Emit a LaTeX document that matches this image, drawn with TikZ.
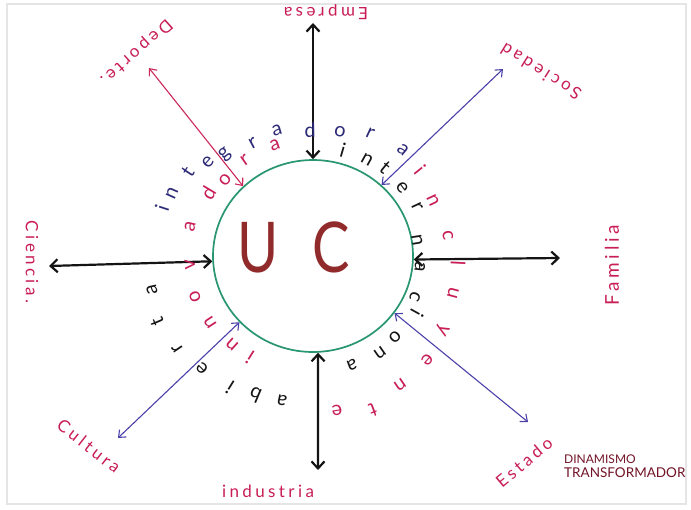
\documentclass[tikz,border=0pt]{standalone}
\usepackage{fontspec}
\usetikzlibrary{arrows.meta,shapes.geometric}
\newfontfamily\hand[LetterSpace=20]{Lato}
\newfontfamily\ringfont{Lato}
\definecolor{pinkc}{RGB}{200,30,85}
\definecolor{navy}{RGB}{45,42,120}
\definecolor{arrblue}{RGB}{75,65,170}
\definecolor{arrpink}{RGB}{205,40,90}
\definecolor{greenc}{RGB}{40,150,110}
\definecolor{ucred}{RGB}{145,42,42}
\definecolor{maroonc}{RGB}{115,20,40}
\definecolor{inkblack}{RGB}{20,20,20}
\begin{document}
\begin{tikzpicture}[x=1pt,y=-1pt,
  lab/.style={text=pinkc, font=\hand\fontsize{17}{17}\selectfont, inner sep=0pt},
  barrow/.style={{Straight Barb[length=7pt,width=13pt]}-{Straight Barb[length=7pt,width=13pt]}, line width=2.2pt, draw=inkblack},
  tarrow/.style={{Straight Barb[length=6pt,width=10pt]}-{Straight Barb[length=6pt,width=10pt]}, line width=1.1pt},
  ringb/.style={text=navy, font=\ringfont\fontsize{20}{20}\selectfont, inner sep=0pt},
  ringp/.style={text=pinkc, font=\ringfont\fontsize{20}{20}\selectfont, inner sep=0pt},
  ringk/.style={text=inkblack, font=\ringfont\fontsize{20}{20}\selectfont, inner sep=0pt}
]
\fill[white] (0,0) rectangle (691,509);
\useasboundingbox (0,0) rectangle (691,509);
\draw[black!10, line width=1.5pt] (7,4) rectangle (686,504);

% central circle
\node[ellipse, draw=greenc, line width=1.7pt, minimum width=200pt, minimum height=192pt, inner sep=0pt] (uc) at (313,256) {};
\node[text=ucred, font=\ringfont\fontsize{70}{70}\selectfont, inner sep=0pt, xscale=0.8] (uctext) at (294,247) {U\hspace{42pt}C};

% outer ends
\coordinate (eEmp) at (313,23);
\coordinate (eSoc) at (503,69);
\coordinate (eFam) at (560,258);
\coordinate (eEst) at (528,422);
\coordinate (eInd) at (318,470);
\coordinate (eCul) at (118,438);
\coordinate (eCie) at (49,266);
\coordinate (eDep) at (149,68);

% connectors
\draw[barrow] (uc.90) -- (eEmp);
\draw[tarrow, draw=arrblue] (uc.46.6) -- (eSoc);
\draw[barrow] (uc.-2) -- (eFam);
\draw[tarrow, draw=arrblue] (uc.-35) -- (eEst);
\draw[barrow] (uc.-87) -- (eInd);
\draw[tarrow, draw=arrblue] (uc.222.5) -- (eCul);
\draw[barrow] (uc.183.5) -- (eCie);
\draw[tarrow, draw=arrpink] (uc.135.4) -- (eDep);

% labels
\node[lab, rotate=180] (lEmp) at (326,12) {Empresa};
\node[lab, rotate=148] (lSoc) at (541,72) {Sociedad};
\node[lab, rotate=90, font=\hand\fontsize{19}{19}\selectfont] (lFam) at (612,265) {Familia};
\node[lab, rotate=40] (lEst) at (524,462) {Estado};
\node[lab] (lInd) at (268,491) {industria};
\node[lab, rotate=-38] (lCul) at (89,446) {Cultura};
\node[lab, rotate=-90] (lCie) at (32,262) {Ciencia.};
\node[lab, rotate=-138] (lDep) at (136,52) {Deporte.};

\node[text=maroonc, font=\ringfont, align=left, anchor=west, inner sep=0pt] (din) at (564,466) {{\fontsize{12}{13}\selectfont DINAMISMO}\\[2pt]{\fontsize{13.5}{14}\selectfont TRANSFORMADOR}};

% ring words
\foreach \x/\y/\a/\l [count=\i] in {162/208/162/i,172/193/156/n,188/172/146/t,208/162/138/e,225/155/131/g,253/143/118/r,277/130/106/a,310/130/91/d,340/132/78/o,370/133/65/r,403/150/50/a}
  {\node[ringb, rotate=\a-90] (wb\i) at (\x,\y) {\l};}
\foreach \x/\y/\a/\l [count=\i] in {250/357/238/i,232/345/228/n,210/323/213/n,195/297/199/o,190/265/184/v,190/227/167/a,208/193/149/d,225/180/139/o,245/160/125/r,275/145/109/a}
  {\node[ringp, rotate=\a-90] (wp\i) at (\x,\y) {\l};}
\foreach \x/\y/\a/\l [count=\i] in {343/150/74/i,367/160/61/n,385/168/51/t,402/188/37/e,417/207/25/r,417/240/9/n,420/267/-6/a,415/297/-22/c,417/313/-29/i,395/337/-45/o,380/353/-55/n,352/365/-70/a}
  {\node[ringk, rotate=\a-90] (wk\i) at (\x,\y) {\l};}
\foreach \x/\y/\a/\l [count=\i] in {420/170/39/i,433/200/25/n,448/235/9/c,458/263/-3/l,453/293/-15/u,442/330/-30/y,427/360/-42/e,400/385/-56/n,373/410/-69/t,337/410/-81/e}
  {\node[ringp, rotate=\a-90] (wi\i) at (\x,\y) {\l};}
\foreach \x/\y/\a/\l [count=\i] in {282/400/258/a,255/395/247/b,230/387/238/i,202/368/225/e,177/348/214/r,157/322/203/t,152/290/192/a}
  {\node[ringk, rotate=\a-90] (wa\i) at (\x,\y) {\l};}
\end{tikzpicture}
\end{document}
